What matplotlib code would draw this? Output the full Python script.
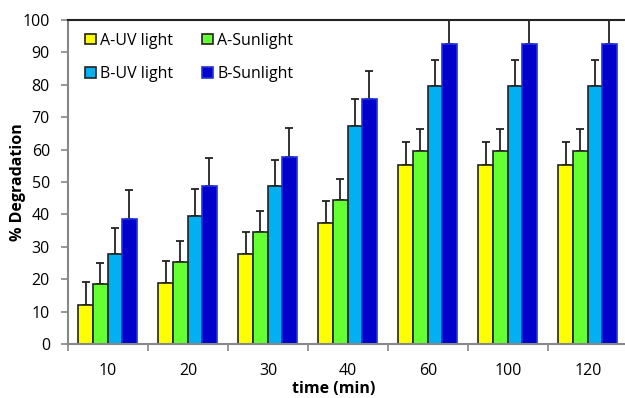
import matplotlib
matplotlib.use("Agg")
import matplotlib.pyplot as plt
import numpy as np

categories = ["10", "20", "30", "40", "60", "100", "120"]
series_names = ["A-UV light", "A-Sunlight", "B-UV light", "B-Sunlight"]
a_uv = [12.0, 18.7, 27.8, 37.2, 55.3, 55.3, 55.3]
a_sun = [18.4, 25.3, 34.5, 44.4, 59.7, 59.7, 59.7]
b_uv = [27.7, 39.6, 48.8, 67.4, 79.6, 79.6, 79.6]
b_sun = [38.7, 48.8, 57.8, 75.6, 92.7, 92.7, 92.7]
a_uv_err = [7.0, 7.0, 6.9, 6.9, 7.0, 7.0, 7.0]
a_sun_err = [6.7, 6.6, 6.5, 6.6, 6.6, 6.6, 6.6]
b_uv_err = [8.1, 8.1, 8.0, 8.2, 8.1, 8.1, 8.1]
b_sun_err = [8.8, 8.5, 8.8, 8.8, 8.8, 8.8, 8.8]

values = [a_uv, a_sun, b_uv, b_sun]
errors = [a_uv_err, a_sun_err, b_uv_err, b_sun_err]
colors = ["#FFFF00", "#66FF33", "#00B0F0", "#0000CC"]
edges = ["#222222", "#222222", "#222222", "#2233DD"]

plt.rcParams['font.family'] = ['Open Sans', 'DejaVu Sans']

fig = plt.figure(figsize=(6.25, 3.98), dpi=100)
ax = fig.add_axes([68/625, 1-344/398, 560/625, 324/398])

x = np.arange(len(categories))
w = 0.1825
handles = []
for i, (vals, errs) in enumerate(zip(values, errors)):
    pos = x + (i - 1.5) * w - 0.006
    b = ax.bar(pos, vals, width=w, color=colors[i], edgecolor=edges[i],
               linewidth=1.2, label=series_names[i], zorder=2)
    handles.append(b)
    ax.errorbar(pos, vals, yerr=[np.zeros(len(vals)), errs], fmt='none',
                ecolor='#222222', elinewidth=1.3, capsize=3.2, capthick=1.3, zorder=1)

ax.set_xlim(-0.5, len(categories) - 0.5)
ax.set_ylim(0, 100)
ax.set_yticks(np.arange(0, 101, 10))
ax.set_xticks(x)
ax.set_xticklabels(categories)
ax.set_xticks(np.arange(-0.5, len(categories), 1.0), minor=True)
ax.tick_params(axis='x', which='major', length=0, pad=14, labelsize=11.5)
ax.tick_params(axis='x', which='minor', length=5, color='#888888', width=1.2, direction='out')
ax.tick_params(axis='y', length=5, color='#888888', width=1.2, labelsize=11.5, pad=8)

for s in ['left', 'bottom']:
    ax.spines[s].set_color('#888888')
    ax.spines[s].set_linewidth(1.5)
ax.spines['top'].set_color('#222222')
ax.spines['top'].set_linewidth(1.5)
ax.spines['right'].set_visible(False)

ax.set_ylabel("% Degradation", fontweight='bold', fontsize=11.5)
ax.yaxis.set_label_coords(-0.075, 0.5)
ax.set_xlabel("time (min)", fontweight='bold', fontsize=11.5)
ax.xaxis.set_label_coords(0.475, -0.115)

order = [0, 2, 1, 3]
leg = ax.legend([handles[k] for k in order], [series_names[k] for k in order],
                ncol=2, loc='upper left', bbox_to_anchor=(0.005, 1.005), frameon=False,
                fontsize=11.5, handlelength=0.65, handleheight=0.65, handletextpad=0.3,
                columnspacing=1.8, labelspacing=1.1)

fig.savefig("out.png", dpi=100)
